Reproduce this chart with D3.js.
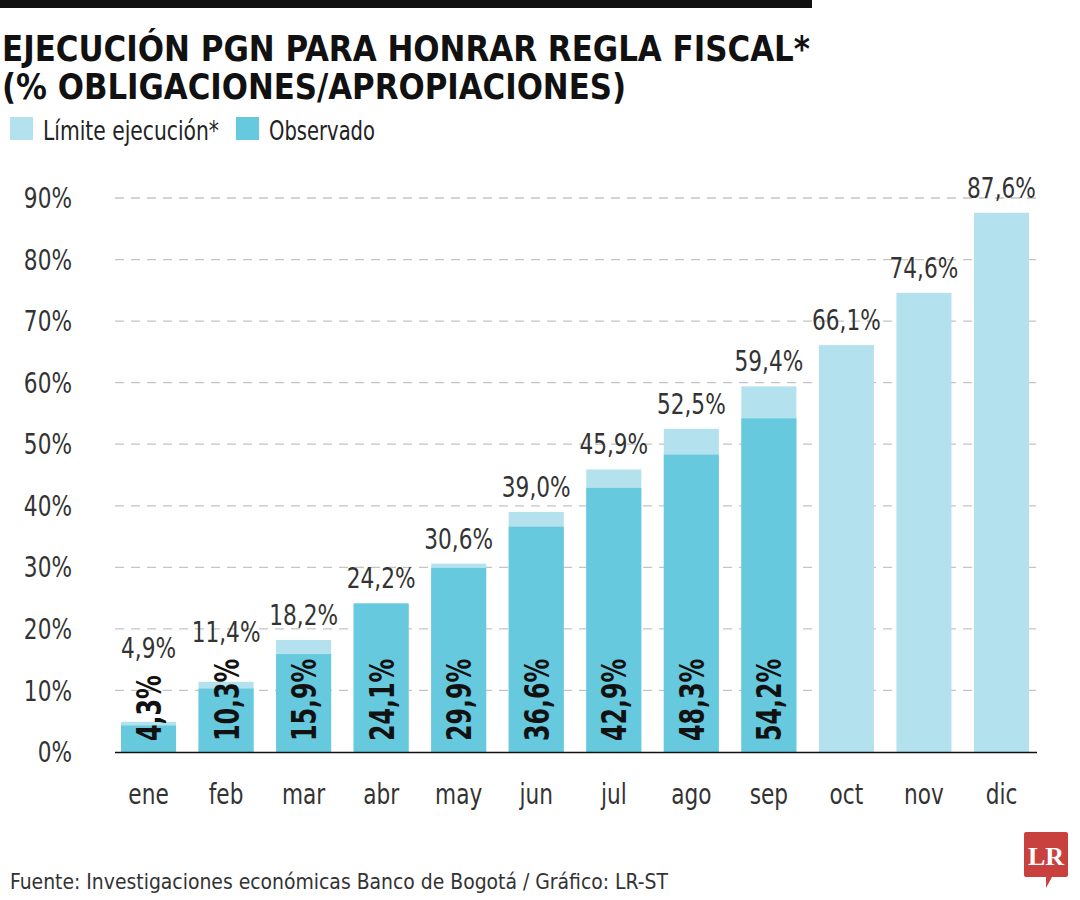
<!DOCTYPE html>
<html><head><meta charset="utf-8">
<script src="https://cdn.jsdelivr.net/npm/d3@7"></script>
<style>
body{margin:0;background:#fff;}
text{font-family:"Liberation Sans Narrow","DejaVu Sans Condensed","Roboto Condensed",sans-serif;}
</style></head>
<body><svg id="c" width="1080" height="900"></svg>
<script>
const months = ["ene","feb","mar","abr","may","jun","jul","ago","sep","oct","nov","dic"];
const limite = [4.9,11.4,18.2,24.2,30.6,39.0,45.9,52.5,59.4,66.1,74.6,87.6];
const observado = [4.3,10.3,15.9,24.1,29.9,36.6,42.9,48.3,54.2];
const yTicks = [0,10,20,30,40,50,60,70,80,90];
const fmt = v => v.toFixed(1).replace(".", ",") + "%";

const svg = d3.select("#c");
const cLight = "#b3e1ed", cDark = "#66c9dd";
const SX = 0.86;

svg.append("rect").attr("x",0).attr("y",0).attr("width",812).attr("height",8).attr("fill","#111");
svg.append("text").attr("x",2).attr("y",61).attr("font-size",35).attr("font-weight","bold").attr("fill","#111")
  .attr("textLength",808).attr("lengthAdjust","spacingAndGlyphs").text("EJECUCIÓN PGN PARA HONRAR REGLA FISCAL*");
svg.append("text").attr("x",2).attr("y",99).attr("font-size",35).attr("font-weight","bold").attr("fill","#111")
  .attr("textLength",624).attr("lengthAdjust","spacingAndGlyphs").text("(% OBLIGACIONES/APROPIACIONES)");

// legend
const leg = [{t:"Límite ejecución*",c:cLight,x:10,w:176},{t:"Observado",c:cDark,x:236,w:106}];
leg.forEach(l=>{
  svg.append("rect").attr("x",l.x).attr("y",117).attr("width",23).attr("height",23).attr("fill",l.c);
  svg.append("text").attr("x",l.x+33).attr("y",140).attr("font-size",27).attr("fill","#222")
    .attr("textLength",l.w).attr("lengthAdjust","spacingAndGlyphs").text(l.t);
});

const x = d3.scaleBand().domain(months).range([109.75,1040.25]).paddingInner(0.29).paddingOuter(0.145);
const y = d3.scaleLinear().domain([0,90]).range([752,198]);

// grid
svg.append("g").selectAll("line").data(yTicks.filter(d=>d>0)).join("line")
  .attr("x1",115).attr("x2",1037).attr("y1",d=>y(d)).attr("y2",d=>y(d))
  .attr("stroke","#c4c4c4").attr("stroke-width",1.3).attr("stroke-dasharray","9,7");

// y axis labels
const yAxis = d3.axisLeft(y).tickValues(yTicks).tickFormat(d=>d+"%").tickSize(0).tickPadding(0);
const ya = svg.append("g").attr("transform","translate(72,0)").call(yAxis);
ya.select(".domain").remove();
ya.selectAll(".tick").attr("transform",d=>`translate(0,${y(d)}) scale(${SX},1)`);
ya.selectAll("text").attr("font-size",28).attr("fill","#333").attr("dy","0.36em")
  .style("font-family","'Liberation Sans Narrow','DejaVu Sans Condensed',sans-serif");

// bars
svg.append("g").selectAll("rect").data(limite).join("rect")
  .attr("x",(d,i)=>x(months[i])).attr("width",x.bandwidth())
  .attr("y",d=>y(d)).attr("height",d=>y(0)-y(d)).attr("fill",cLight);
svg.append("g").selectAll("rect").data(observado).join("rect")
  .attr("x",(d,i)=>x(months[i])).attr("width",x.bandwidth())
  .attr("y",d=>y(d)).attr("height",d=>y(0)-y(d)).attr("fill",cDark);

// labels inside (rotated)
const IS = 0.8;
const ins = svg.append("g").selectAll("text").data(observado).join("text")
  .attr("transform",(d,i)=>`translate(${x(months[i])+x.bandwidth()/2+12.5},741) rotate(-90) scale(${IS},1)`)
  .attr("font-size",33).attr("font-weight","bold").attr("fill","#111").text(d=>fmt(d));
const insTop = [];
ins.each(function(d,i){ insTop[i] = 741 - this.getComputedTextLength()*IS; });

// labels above
svg.append("g").selectAll("text").data(limite).join("text")
  .attr("transform",(d,i)=>{
    const lab = y(d) - 15;
    const alt = i < observado.length ? insTop[i] - 17 : lab;
    return `translate(${x(months[i])+x.bandwidth()/2},${Math.min(lab,alt)}) scale(${SX},1)`;
  })
  .attr("text-anchor","middle").attr("font-size",28).attr("fill","#333").text(d=>fmt(d));

// x axis
const xAxis = d3.axisBottom(x).tickSize(0).tickPadding(0);
const xa = svg.append("g").attr("transform","translate(0,752)").call(xAxis);
xa.select(".domain").remove();
xa.selectAll(".tick").attr("transform",d=>`translate(${x(d)+x.bandwidth()/2},0) scale(${SX},1)`);
svg.append("line").attr("x1",115).attr("x2",1037).attr("y1",752.5).attr("y2",752.5).attr("stroke","#111").attr("stroke-width",1.5);
xa.selectAll("text").attr("font-size",28).attr("fill","#333").attr("y",52).attr("dy",0)
  .style("font-family","'Liberation Sans Narrow','DejaVu Sans Condensed',sans-serif");

// footer
svg.append("text").attr("x",10).attr("y",889).attr("font-size",22).attr("fill","#333")
  .attr("textLength",658).attr("lengthAdjust","spacingAndGlyphs")
  .text("Fuente: Investigaciones económicas Banco de Bogotá / Gráfico: LR-ST");

// logo
const lg = svg.append("g");
lg.append("path").attr("d","M1026,832 H1066 Q1068,832 1068,834 V875 Q1068,877 1066,877 H1052 L1046,888 L1046,877 H1026 Q1024,877 1024,875 V834 Q1024,832 1026,832 Z").attr("fill","#c9413e");
lg.append("text").attr("x",1046).attr("y",865).attr("text-anchor","middle").attr("font-size",26).attr("font-weight","bold")
  .attr("fill","#fff").style("font-family","'Liberation Serif','DejaVu Serif',serif").text("LR");
</script></body></html>
